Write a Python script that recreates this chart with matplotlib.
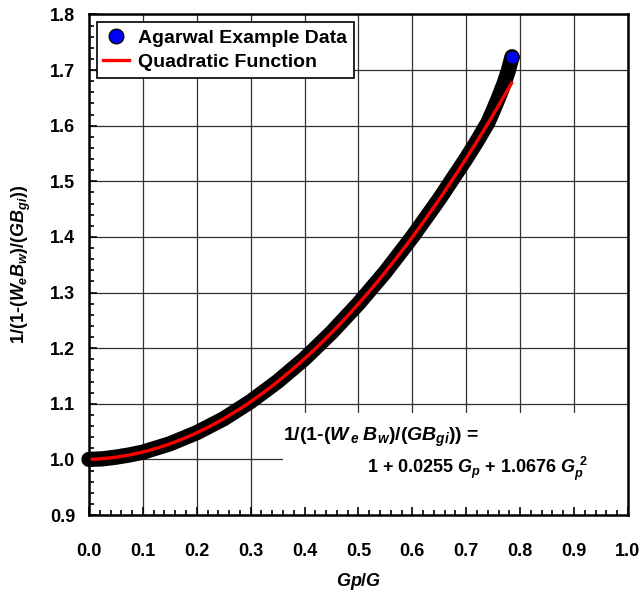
import matplotlib
matplotlib.use("Agg")
import matplotlib.pyplot as plt
from matplotlib.ticker import MultipleLocator, FormatStrFormatter
from matplotlib.lines import Line2D
from matplotlib.patches import Rectangle
import numpy as np

# Data
gp_data = [0.000, 0.025, 0.050, 0.075, 0.100, 0.150, 0.200, 0.250, 0.300, 0.350,
           0.400, 0.450, 0.500, 0.550, 0.600, 0.650, 0.700, 0.720, 0.740, 0.750,
           0.760, 0.770, 0.778, 0.785]
y_data = [1.000, 1.001, 1.004, 1.008, 1.013, 1.028, 1.048, 1.073, 1.104, 1.140,
          1.181, 1.228, 1.280, 1.337, 1.400, 1.468, 1.541, 1.572, 1.605, 1.627,
          1.650, 1.675, 1.698, 1.724]

# Quadratic fit coefficients shown on chart
coef_a0 = 1.0
coef_a1 = 0.0255
coef_a2 = 1.0676
fit_x = np.linspace(0.0, 0.784, 200)
fit_y = coef_a0 + coef_a1 * fit_x + coef_a2 * fit_x ** 2

plt.rcParams['font.family'] = ['Liberation Sans', 'DejaVu Sans']
plt.rcParams['font.weight'] = 'bold'
plt.rcParams['axes.labelweight'] = 'bold'
plt.rcParams['mathtext.fontset'] = 'custom'
plt.rcParams['mathtext.rm'] = 'Liberation Sans:bold'
plt.rcParams['mathtext.it'] = 'Liberation Sans:bold:italic'
plt.rcParams['mathtext.bf'] = 'Liberation Sans:bold'

fig = plt.figure(figsize=(6.4, 6.02), dpi=100)
pos = [0.139, 0.1445, 0.842, 0.8315]

# background axes carrying only the grid
ax_bg = fig.add_axes(pos, zorder=0)
ax_bg.set_xlim(0.0, 1.0)
ax_bg.set_ylim(0.9, 1.8)
ax_bg.xaxis.set_major_locator(MultipleLocator(0.1))
ax_bg.yaxis.set_major_locator(MultipleLocator(0.1))
ax_bg.grid(True, which='major', color='#303030', lw=0.9)
ax_bg.tick_params(which='both', length=0, labelbottom=False, labelleft=False)
for s in ax_bg.spines.values():
    s.set_visible(False)

ax = fig.add_axes(pos, zorder=1)
ax.patch.set_alpha(0)
ax.set_xlim(0.0, 1.0)
ax.set_ylim(0.9, 1.8)

# white box behind equation
ax.add_patch(Rectangle((0.36, 0.9), 0.64, 0.183, facecolor='white', edgecolor='none', zorder=1))

# data: dense overlapping markers form a thick dark band
ax.plot(gp_data, y_data, '-', color='black', lw=11, solid_capstyle='round', zorder=3, clip_on=False)
ax.plot(gp_data[-1:], y_data[-1:], 'o', ms=9.5, mfc='blue', mec='black', mew=1.0, zorder=4, clip_on=False)
ax.plot(fit_x, fit_y, '-', color='red', lw=2.4, zorder=5)

for s in ax.spines.values():
    s.set_linewidth(1.8)
    s.set_zorder(6)

ax.xaxis.set_major_locator(MultipleLocator(0.1))
ax.xaxis.set_minor_locator(MultipleLocator(0.02))
ax.yaxis.set_major_locator(MultipleLocator(0.1))
ax.yaxis.set_minor_locator(MultipleLocator(0.02))
ax.xaxis.set_major_formatter(FormatStrFormatter('%.1f'))
ax.yaxis.set_major_formatter(FormatStrFormatter('%.1f'))
ax.tick_params(which='both', direction='in', top=False, right=False, width=1.2, labelsize=13)
ax.tick_params(which='major', length=6)
ax.tick_params(which='minor', length=3.5)
ax.tick_params(axis='x', which='major', pad=20)
ax.tick_params(axis='y', which='major', pad=10)

ax.set_xlabel('$Gp/G$', fontsize=13, labelpad=8)
ax.set_ylabel('1/(1-($W_{e}B_{w}$)/($GB_{gi}$))', fontsize=13, labelpad=12)

ax.text(0.36, 0.155, '1/(1-($W_{\\,e}\\;B_{w}$)/($GB_{gi}$)) =', transform=ax.transAxes,
        fontsize=14, ha='left', va='center', zorder=7)
ax.text(0.925, 0.093, '1 + 0.0255 $G_{p}$ + 1.0676 $G_{p}^{\\ 2}$', transform=ax.transAxes,
        fontsize=13, ha='right', va='center', zorder=7)

handles = [Line2D([], [], ls='none', marker='o', ms=10.5, mfc='blue', mec='black', mew=1.0),
           Line2D([], [], color='red', lw=2.4)]
leg = ax.legend(handles, ['Agarwal Example Data', 'Quadratic Function'],
                loc='upper left', bbox_to_anchor=(0.014, 0.984), fontsize=14,
                frameon=True, fancybox=False, edgecolor='black', framealpha=1,
                borderpad=0.35, handlelength=1.3, handletextpad=0.5, labelspacing=0.35,
                borderaxespad=0)
leg.get_frame().set_linewidth(1.2)
leg.set_zorder(8)

fig.savefig('out.png', dpi=100)
